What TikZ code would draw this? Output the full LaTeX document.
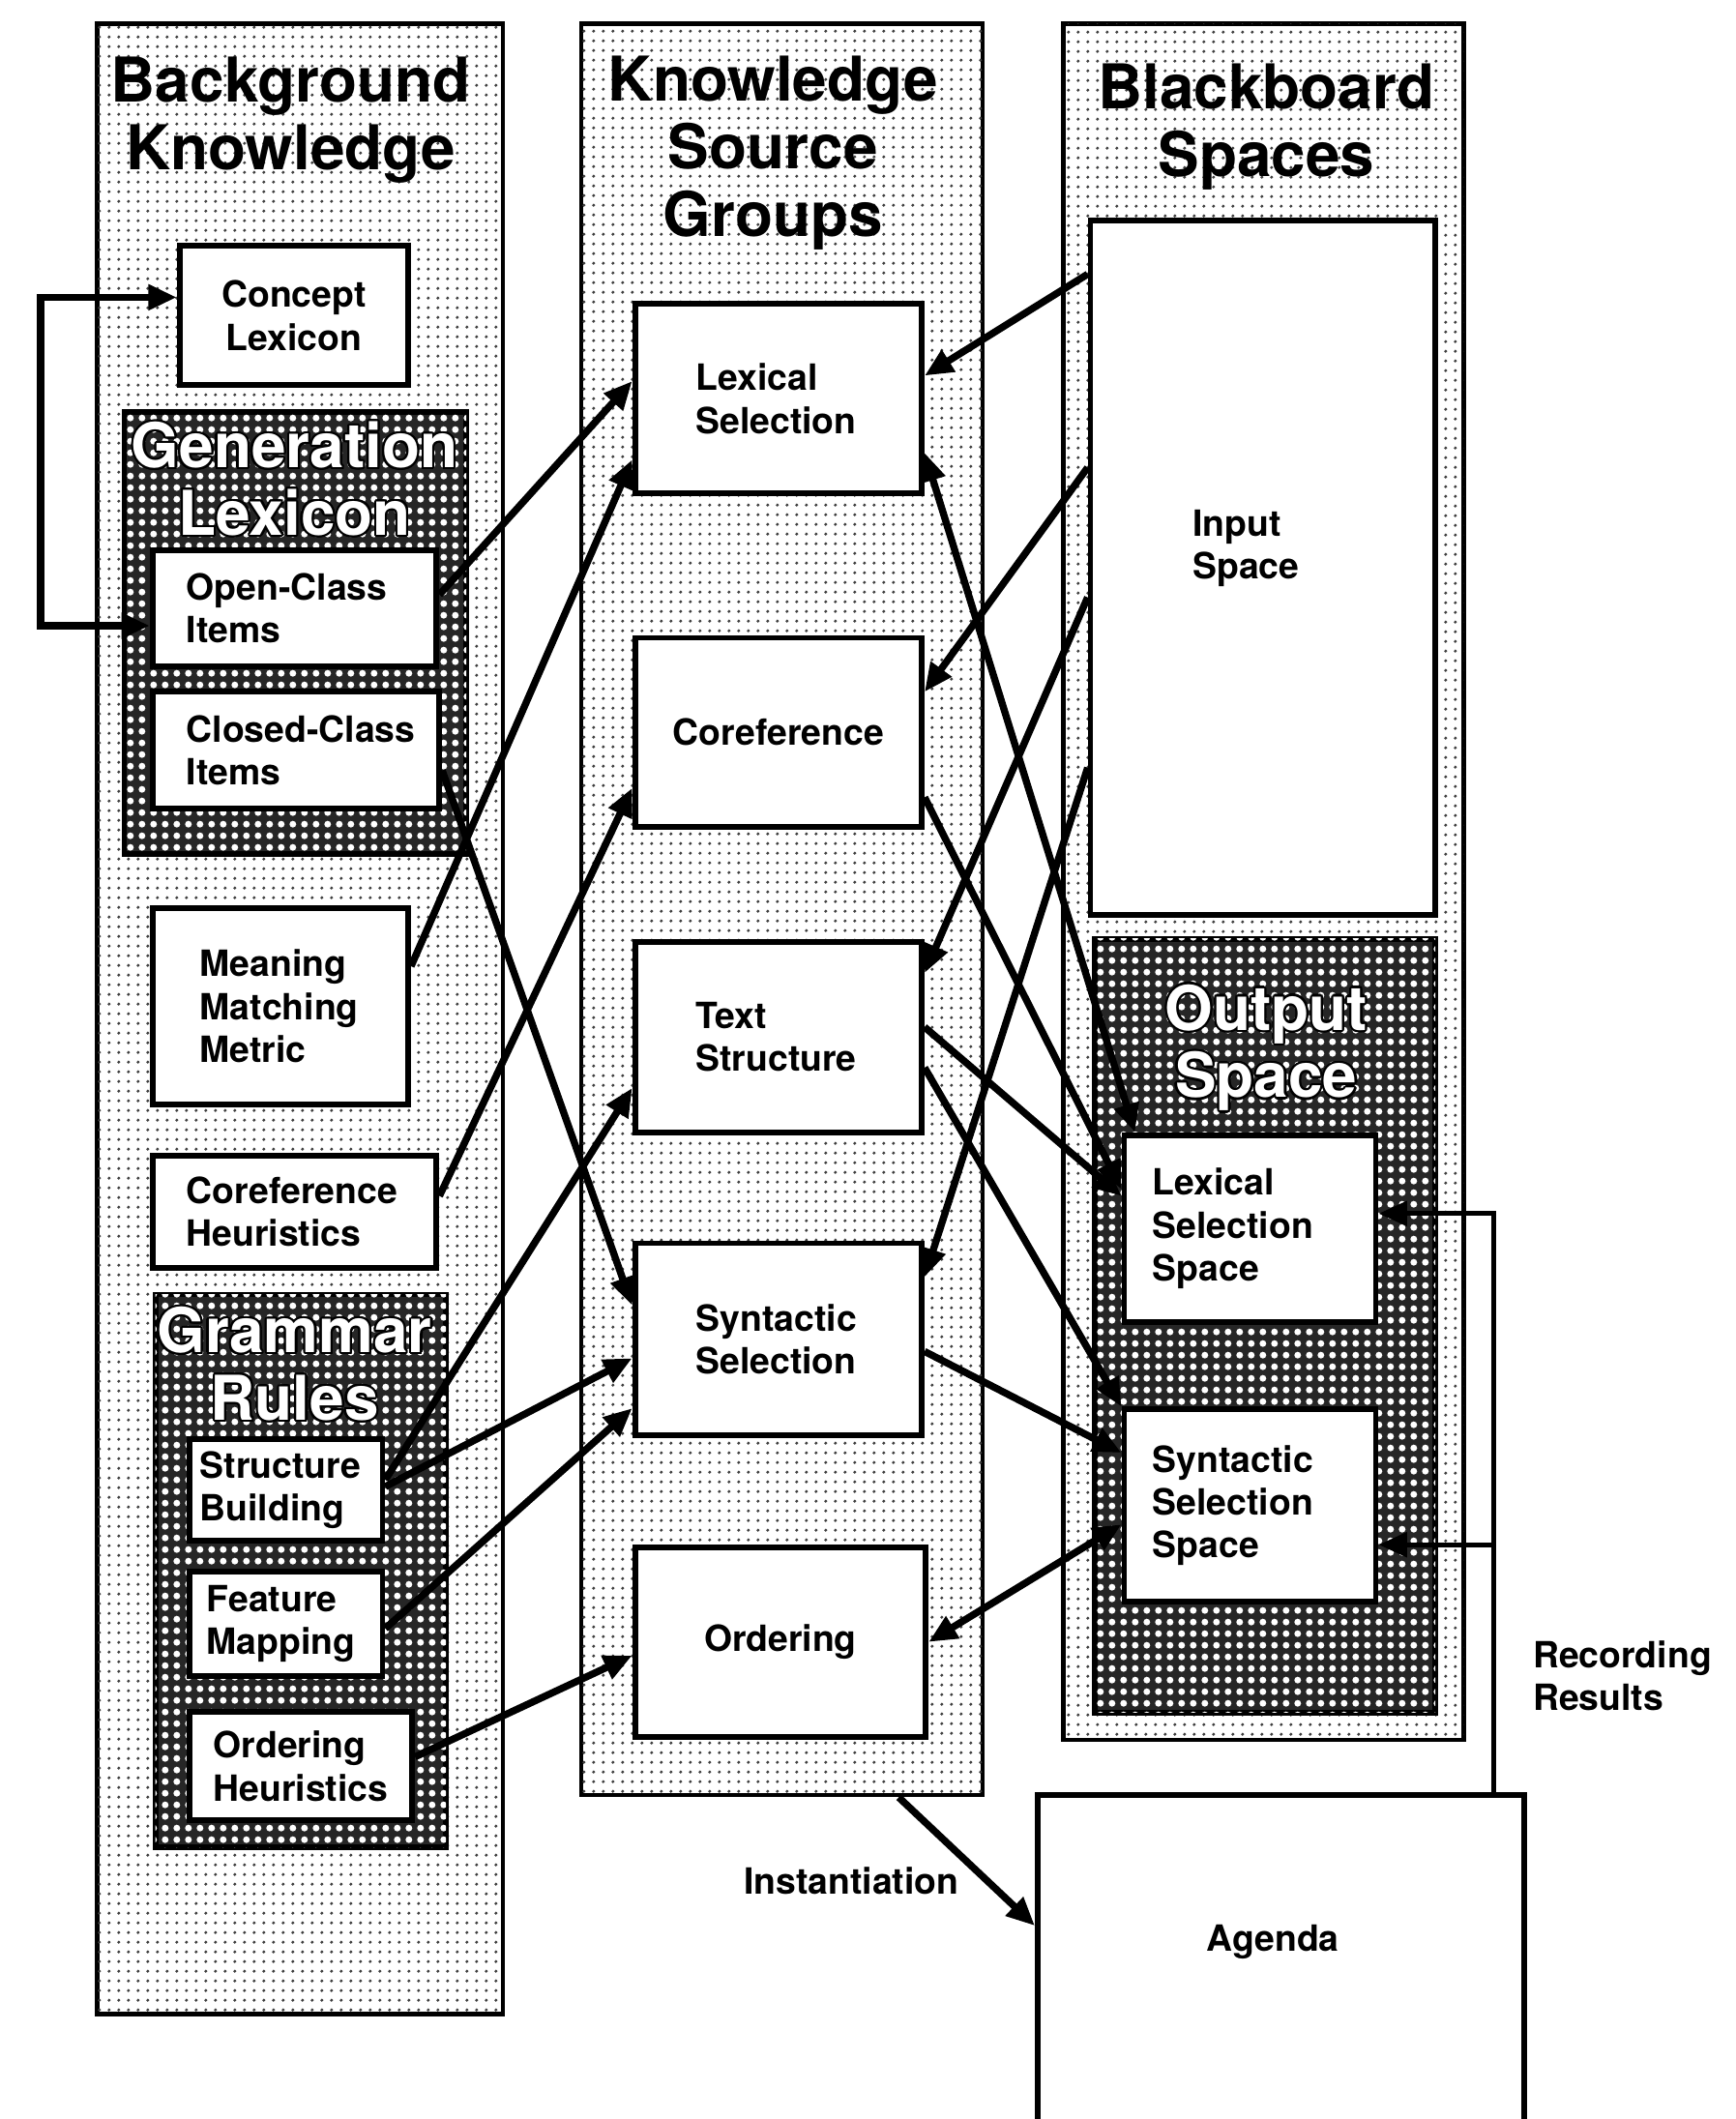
\documentclass[tikz,border=0pt]{standalone}
\usepackage{fontspec}
\setmainfont{TeX Gyre Heros}
\usepackage{contour}
\contourlength{0.45pt}
\usetikzlibrary{arrows.meta,patterns}

%% fill patterns for the columns and the groups
\pgfdeclarepatternformonly{finedots}{\pgfpointorigin}{\pgfqpoint{2pt}{2pt}}{\pgfqpoint{2pt}{2pt}}{%
  \pgfpathcircle{\pgfqpoint{1pt}{1pt}}{0.35pt}\pgfusepath{fill}}
\pgfdeclarepatternformonly{coarsedots}{\pgfpointorigin}{\pgfqpoint{2.4pt}{2.4pt}}{\pgfqpoint{2.4pt}{2.4pt}}{%
  \pgfpathcircle{\pgfqpoint{1.2pt}{1.2pt}}{0.72pt}\pgfusepath{fill}}

\newcommand{\kbfont}{\fontsize{7.6}{9}\selectfont\bfseries}
\newcommand{\hollowtext}[1]{\contour{black}{#1}}

\tikzset{
  column/.style={draw, line width=0.9pt, inner sep=0pt, fill=white,
    postaction={pattern=finedots, pattern color=black!75}},
  group/.style={draw, line width=1.2pt, inner sep=0pt, fill=black!85,
    postaction={pattern=coarsedots, pattern color=white}},
  title/.style={font=\fontsize{13}{14.2}\selectfont\bfseries, align=center},
  grouptitle/.style={title, text=white},
  kbox/.style n args={3}{draw, line width=1.2pt, fill=white, inner sep=0pt,
    minimum width=#1cm, minimum height=#2cm, text width=#3cm, align=left, font=\kbfont},
  cbox/.style n args={2}{draw, line width=1.2pt, fill=white, inner sep=0pt,
    minimum width=#1cm, minimum height=#2cm, align=center, font=\kbfont},
  link/.style={line width=1.5pt, -{Triangle[length=0.21cm,width=0.18cm]}},
  twoway/.style={line width=1.5pt, {Triangle[length=0.21cm,width=0.18cm]}-{Triangle[length=0.21cm,width=0.18cm]}},
  label/.style={font=\kbfont, align=left}
}

\begin{document}
\begin{tikzpicture}[x=0.01cm, y=-0.01cm]
    \fill[white] (0,0) rectangle (1284,1568);
    \useasboundingbox (0,0) rectangle (1284,1568);
    %% Columns
    \node[column, minimum width=3.00cm, minimum height=14.72cm] (colBK) at (222,754) {};
    \node[column, minimum width=2.97cm, minimum height=13.10cm] (colKS) at (578.5,673) {};
    \node[column, minimum width=2.96cm, minimum height=12.69cm] (colBB) at (935,652.5) {};
    \node[title] (titleBK) at (215,89) {Background\\Knowledge};
    \node[title] (titleKS) at (572,113) {Knowledge\\Source\\Groups};
    \node[title] (titleBB) at (937,94) {Blackboard\\Spaces};
    %% Groups
    \node[group, minimum width=2.53cm, minimum height=3.27cm] (genlex) at (218.5,468.5) {};
    \node[group, minimum width=2.15cm, minimum height=4.09cm] (grammar) at (222.5,1162.5) {};
    \node[group, minimum width=2.52cm, minimum height=5.72cm] (outspace) at (936,981) {};
    \node[grouptitle] (titleGL) at (218,355) {\hollowtext{Generation}\\\hollowtext{Lexicon}};
    \node[grouptitle] (titleGR) at (218,1010) {\hollowtext{Grammar}\\\hollowtext{Rules}};
    \node[grouptitle] (titleOS) at (937,776) {\hollowtext{Output}\\\hollowtext{Space}};
    %% Background knowledge
    \node[cbox={1.69}{1.03}] (concept) at (217.5,233.5) {Concept\\Lexicon};
    \node[kbox={2.10}{0.86}{1.60}] (openclass) at (218,450) {\mbox{Open-Class}\\Items};
    \node[kbox={2.12}{0.86}{1.62}] (closedclass) at (219,555) {\mbox{Closed-Class}\\Items};
    \node[kbox={1.89}{1.45}{1.19}] (meaning) at (207.5,744.5) {Meaning\\Matching\\Metric};
    \node[kbox={2.10}{0.83}{1.60}] (corefheur) at (218,896.5) {Coreference\\Heuristics};
    \node[kbox={1.43}{0.75}{1.27}] (structure) at (211.5,1102.5) {Structure\\Building};
    \node[kbox={1.43}{0.77}{1.17}] (feature) at (211.5,1201.5) {Feature\\Mapping};
    \node[kbox={1.65}{0.80}{1.29}] (orderheur) at (222.5,1307) {Ordering\\Heuristics};
    %% Knowledge source groups
    \node[kbox={2.12}{1.40}{1.22}] (lexsel) at (576,295) {Lexical\\Selection};
    \node[cbox={2.12}{1.40}] (coref) at (576,542) {Coreference};
    \node[kbox={2.12}{1.41}{1.22}] (textstruct) at (576,767.5) {Text\\Structure};
    \node[kbox={2.12}{1.42}{1.22}] (synsel) at (576,991) {Syntactic\\Selection};
    \node[cbox={2.15}{1.40}] (ordering) at (577.5,1215) {Ordering};
    %% Blackboard spaces
    \node[kbox={2.55}{5.14}{1.05}] (input) at (934.5,420) {};
    \node[label] (inputtext) at (922,406) {Input\\Space};
    \node[kbox={1.86}{1.38}{1.44}] (lexspace) at (925,909) {Lexical\\Selection\\Space};
    \node[kbox={1.86}{1.42}{1.44}] (synspace) at (925,1114) {Syntactic\\Selection\\Space};
    %% Agenda
    \node[draw, line width=1.2pt, fill=white, inner sep=0pt, minimum width=3.60cm, minimum height=2.72cm] (agenda) at (948,1464) {};
    \node[font=\kbfont] (agendatext) at (942,1437) {Agenda};

    %% Loop between the lexicons
    \coordinate (loopleft) at (30,340);
    \draw[twoway] ([yshift=0.135cm]concept.west) -| (loopleft) |- ([yshift=-0.13cm]openclass.west);
    %% Background knowledge to knowledge sources
    \draw[link] ([yshift=0.10cm]openclass.east) -- ([yshift=0.13cm]lexsel.west);
    \draw[link] ([yshift=0.295cm]meaning.east) -- ([yshift=-0.45cm]lexsel.west);
    \draw[link] ([yshift=-0.15cm]closedclass.east) -- ([yshift=0.25cm]synsel.west);
    \draw[link] ([yshift=0.115cm]corefheur.east) -- ([yshift=-0.41cm]coref.west);
    \draw[link] ([yshift=0.075cm]structure.east) -- ([yshift=-0.375cm]textstruct.west);
    \draw[link] ([yshift=0.025cm]structure.east) -- ([yshift=-0.14cm]synsel.west);
    \draw[link] ([yshift=-0.035cm]feature.east) -- ([yshift=-0.51cm]synsel.west);
    \draw[link] ([yshift=0.07cm]orderheur.east) -- ([yshift=-0.10cm]ordering.west);
    %% Input space to knowledge sources
    \draw[link] ([yshift=2.17cm]input.west) -- ([yshift=0.17cm]lexsel.east);
    \draw[link] ([yshift=0.74cm]input.west) -- ([yshift=0.30cm]coref.east);
    \draw[link] ([yshift=-0.22cm]input.west) -- ([yshift=0.475cm]textstruct.east);
    \draw[link] ([yshift=-1.48cm]input.west) -- ([yshift=0.46cm]synsel.east);
    %% Knowledge sources to output space
    \draw[twoway] ([yshift=-0.40cm]lexsel.east) -- ([xshift=0.10cm]lexspace.north west);
    \draw[link] ([yshift=-0.48cm]coref.east) -- ([yshift=0.29cm]lexspace.west);
    \draw[link] ([yshift=0.075cm]textstruct.east) -- ([yshift=0.24cm]lexspace.west);
    \draw[link] ([yshift=-0.225cm]textstruct.east) -- (synspace.north west);
    \draw[link] ([yshift=-0.09cm]synsel.east) -- ([yshift=0.39cm]synspace.west);
    \draw[twoway] (ordering.east) -- ([yshift=-0.14cm]synspace.west);
    %% Agenda
    \draw[link] ([xshift=0.865cm]colKS.south) -- ([yshift=0.39cm]agenda.west);
    \node[label] (instlabel) at (630,1392) {Instantiation};
    \draw[line width=1pt, -{Triangle[length=0.21cm,width=0.18cm]}] ([xshift=1.57cm]agenda.north) |- ([yshift=0.11cm]lexspace.east);
    \draw[line width=1pt, -{Triangle[length=0.21cm,width=0.18cm]}] ([xshift=1.57cm]agenda.north) |- ([yshift=-0.29cm]synspace.east);
    \node[label, anchor=west] (reclabel) at (1122,1240) {Recording\\Results};
\end{tikzpicture}
\end{document}
